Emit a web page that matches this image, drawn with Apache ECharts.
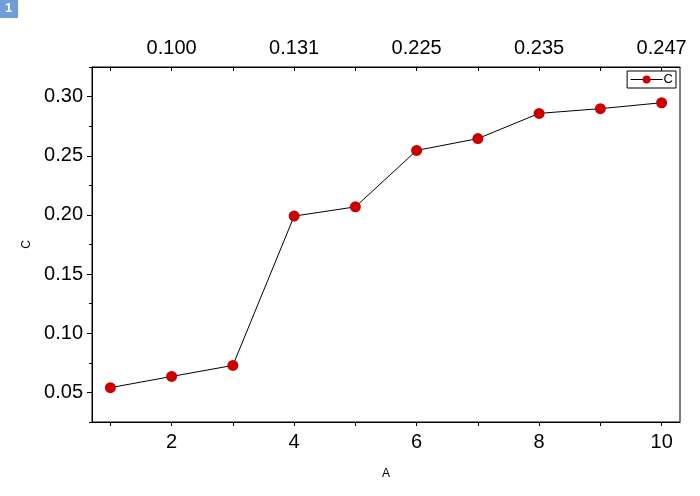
<!DOCTYPE html>
<html>
<head>
<meta charset="utf-8">
<script src="https://cdn.jsdelivr.net/npm/echarts@6/dist/echarts.min.js"></script>
<style>html,body{margin:0;padding:0;background:#fff;}#main{width:700px;height:496px;}</style>
</head>
<body>
<div id="main"></div>
<script>
const xValues = [1, 2, 3, 4, 5, 6, 7, 8, 9, 10];
const cValues = [0.054, 0.0635, 0.0728, 0.199, 0.2068, 0.2545, 0.2645, 0.2858, 0.2898, 0.2948];
const bottomTicks = [2, 4, 6, 8, 10];
const topTickLabels = ['0.100', '0.131', '0.225', '0.235', '0.247'];
const yMajor = [0.05, 0.10, 0.15, 0.20, 0.25, 0.30];
const yMinor = [0.025, 0.075, 0.125, 0.175, 0.225, 0.275, 0.325];

const chart = echarts.init(document.getElementById('main'));
const font = 'Liberation Sans, Arial, sans-serif';
const axisLine = { show: true, lineStyle: { color: '#000', width: 1 } };
chart.setOption({
  backgroundColor: '#fff',
  animation: false,
  graphic: [
    { type: 'rect', left: 0, top: 0, shape: { width: 18, height: 18 }, style: { fill: '#6f9fd8' } },
    { type: 'text', left: 5, top: 2, style: { text: '1', fill: '#fff', font: 'bold 13px ' + font } }
  ],
  grid: { left: 92, right: 20, top: 67, bottom: 74, show: true, borderColor: '#000', borderWidth: 1 },
  legend: {
    right: 24, top: 71, orient: 'vertical',
    borderColor: '#000', borderWidth: 1, borderRadius: 0, padding: [2, 3],
    itemWidth: 32, itemHeight: 10, itemGap: 2,
    lineStyle: { width: 1, color: '#000' },
    textStyle: { fontFamily: font, fontSize: 13, color: '#000', padding: [0, 0, 0, -4] },
    data: ['C']
  },
  xAxis: [
    {
      type: 'value', position: 'bottom', min: 0.7, max: 10.3,
      name: 'A', nameLocation: 'middle', nameGap: 46,
      nameTextStyle: { fontFamily: font, fontSize: 12, color: '#000' },
      axisLine: axisLine, splitLine: { show: false },
      axisTick: { show: true, length: 4, inside: false, lineStyle: { color: '#000' }, customValues: xValues },
      axisLabel: { fontFamily: font, fontSize: 20, color: '#000', margin: 10, customValues: bottomTicks }
    },
    {
      type: 'value', position: 'top', min: 0.7, max: 10.3,
      axisLine: axisLine, splitLine: { show: false },
      axisTick: { show: true, length: 4, inside: true, lineStyle: { color: '#000' }, customValues: xValues },
      axisLabel: {
        fontFamily: font, fontSize: 20, color: '#000', margin: 9, customValues: bottomTicks,
        formatter: function (v) { const i = bottomTicks.indexOf(Math.round(v)); return i >= 0 ? topTickLabels[i] : ''; }
      }
    }
  ],
  yAxis: [
    {
      type: 'value', min: 0.025, max: 0.325,
      name: 'C', nameLocation: 'middle', nameGap: 55,
      nameTextStyle: { fontFamily: font, fontSize: 12, color: '#000' },
      axisLine: axisLine, splitLine: { show: false },
      axisTick: { show: true, length: 5, lineStyle: { color: '#000' }, customValues: yMajor },
      axisLabel: { fontFamily: font, fontSize: 20, color: '#000', margin: 9, customValues: yMajor,
        formatter: function (v) { return v.toFixed(2); } }
    },
    {
      type: 'value', min: 0.025, max: 0.325, position: 'left',
      axisLine: { show: false }, splitLine: { show: false },
      axisTick: { show: true, length: 3, lineStyle: { color: '#000' }, customValues: yMinor },
      axisLabel: { show: false }
    }
  ],
  series: [{
    name: 'C', type: 'line',
    xAxisIndex: 0, yAxisIndex: 0,
    data: xValues.map((x, i) => [x, cValues[i]]),
    symbol: 'circle', symbolSize: 11,
    lineStyle: { color: '#000', width: 1 },
    itemStyle: { color: '#cc0000' }
  }]
});
</script>
</body>
</html>
